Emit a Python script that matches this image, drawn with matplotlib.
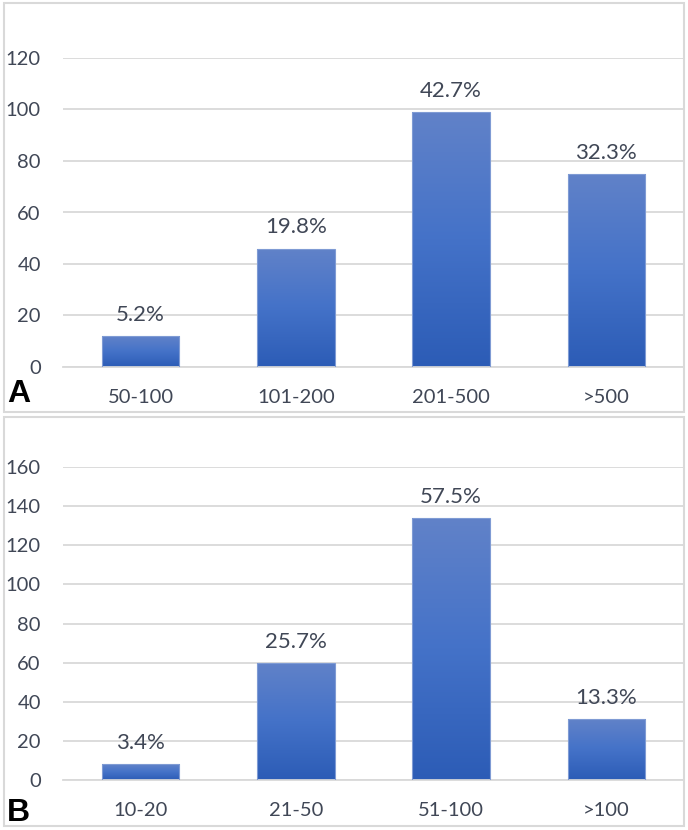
import numpy as np
import matplotlib
matplotlib.use("Agg")
import matplotlib.pyplot as plt
from matplotlib.patches import Rectangle
from matplotlib.colors import LinearSegmentedColormap

# panel A
cats_a = ["50-100", "101-200", "201-500", ">500"]
vals_a = [12, 46, 99, 75]
pct_a = ["5.2%", "19.8%", "42.7%", "32.3%"]
ticks_a = [0, 20, 40, 60, 80, 100, 120]

# panel B
cats_b = ["10-20", "21-50", "51-100", ">100"]
vals_b = [8, 60, 134, 31]
pct_b = ["3.4%", "25.7%", "57.5%", "13.3%"]
ticks_b = [0, 20, 40, 60, 80, 100, 120, 140, 160]

W, H = 688, 830
TXT = "#404756"
GRID = "#d9d9d9"
plt.rcParams["font.family"] = ["Lato", "DejaVu Sans"]

blue_grad = LinearSegmentedColormap.from_list("bg", ["#2c5cb6", "#4472c8", "#6182c9"])


def fx(px):
    return px / W


def fy(py):
    return 1 - py / H


def draw_panel(fig, box, ax_px, cats, vals, pct, ticks, letter, letter_y):
    # light grey frame round the panel
    x0, y0, x1, y1 = box
    fig.patches.append(Rectangle((fx(x0), fy(y1)), fx(x1 - x0), (y1 - y0) / H,
                                 transform=fig.transFigure, fill=False,
                                 edgecolor=GRID, linewidth=1.5))
    l, t, r, b = ax_px
    ax = fig.add_axes([fx(l), fy(b), fx(r - l), (b - t) / H])
    x = np.arange(len(cats))
    bars = ax.bar(x, vals, width=0.5, color="none", edgecolor="#7f9bd4",
                  linewidth=0.8, zorder=3)
    grad = np.linspace(0, 1, 256).reshape(-1, 1)
    for p in bars:
        bx, by = p.get_x(), p.get_y()
        im = ax.imshow(grad, cmap=blue_grad, aspect="auto", origin="lower",
                       extent=[bx, bx + p.get_width(), by, by + p.get_height()],
                       zorder=2)
        im.set_clip_path(p)
    for p, s in zip(bars, pct):
        ax.annotate(s, (p.get_x() + p.get_width() / 2, p.get_height()),
                    xytext=(0, 8), textcoords="offset points",
                    ha="center", va="bottom", fontsize=16, color=TXT)
    ax.set_xlim(-0.5, len(cats) - 0.5)
    ax.set_ylim(ticks[0], ticks[-1])
    ax.set_yticks(ticks)
    ax.set_xticks(x)
    ax.set_xticklabels(cats)
    ax.tick_params(axis="y", length=0, pad=16, labelsize=14.5, labelcolor=TXT)
    ax.tick_params(axis="x", length=0, pad=16, labelsize=14.5, labelcolor=TXT)
    ax.grid(axis="y", color=GRID, linewidth=1.3, zorder=0)
    ax.set_axisbelow(True)
    for s in ["top", "right", "left"]:
        ax.spines[s].set_visible(False)
    ax.spines["bottom"].set_color(GRID)
    ax.spines["bottom"].set_linewidth(1.3)
    ax.patch.set_alpha(0)
    fig.text(fx(7), fy(letter_y), letter, fontsize=23, fontweight="bold",
             family="Liberation Sans", color="black", ha="left", va="baseline")
    return ax


fig = plt.figure(figsize=(W / 100, H / 100), dpi=100)
draw_panel(fig, (4, 3, 684, 412), (63, 58, 684, 367),
           cats_a, vals_a, pct_a, ticks_a, "A", 402)
draw_panel(fig, (4, 417, 684, 826), (63, 467, 684, 780),
           cats_b, vals_b, pct_b, ticks_b, "B", 821)

fig.savefig("out.png", dpi=100, facecolor="white")
